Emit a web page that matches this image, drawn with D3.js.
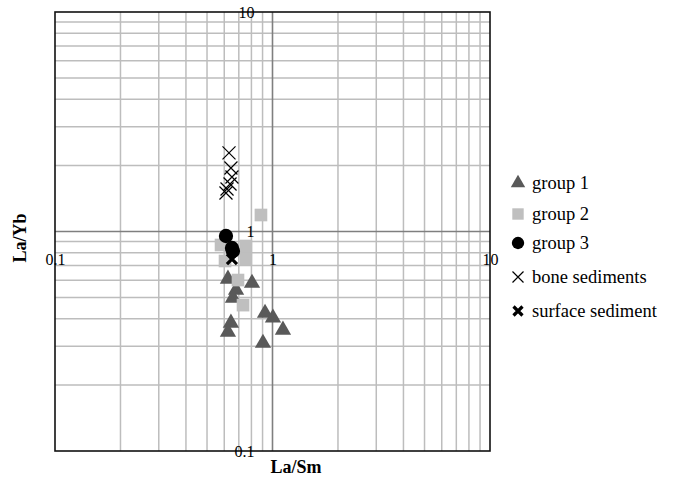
<!DOCTYPE html>
<html>
<head>
<meta charset="utf-8">
<script src="https://cdn.jsdelivr.net/npm/d3@7"></script>
<style>
  body { margin: 0; background: #fff; }
</style>
</head>
<body>
<div id="chart"></div>
<script>
// La/Sm (x) vs La/Yb (y)
const group1 = [
    [0.624, 0.608], [0.805, 0.582], [0.680, 0.541], [0.658, 0.498], [0.644, 0.383],
    [0.624, 0.348], [0.924, 0.425], [1.005, 0.404], [1.117, 0.356], [0.904, 0.310]
];
const group2 = [
    [0.885, 1.189], [0.580, 0.868], [0.755, 0.859], [0.755, 0.749], [0.605, 0.734],
    [0.651, 0.823], [0.694, 0.601], [0.732, 0.462]
];
const group3 = [
    [0.611, 0.954], [0.651, 0.841], [0.658, 0.815]
];
const boneSediments = [
    [0.631, 2.28], [0.644, 1.947], [0.651, 1.771], [0.638, 1.646], [0.618, 1.562], [0.611, 1.497]
];
const surfaceSediment = [
    [0.651, 0.749]
];
const tickValues = [0.1, 1, 10];
const legendLabels = ["group 1", "group 2", "group 3", "bone sediments", "surface sediment"];

const W = 677, H = 477;
const FONT = "'Liberation Serif', 'Times New Roman', serif";
const plot = {left: 55, right: 490, top: 12, bottom: 451};

const svg = d3.select("#chart").append("svg")
    .attr("width", W)
    .attr("height", H)
    .attr("font-family", FONT);

const x = d3.scaleLog().domain([0.1, 10]).range([plot.left, plot.right]);
const y = d3.scaleLog().domain([0.1, 10]).range([plot.bottom, plot.top]);

// grid lines (minor light, decade lines darker)
const grid = svg.append("g");
grid.selectAll(".vgrid")
    .data(x.ticks().filter(d => d > 0.1 && d < 10 && d !== 1))
    .enter().append("line")
    .attr("x1", d => x(d)).attr("x2", d => x(d))
    .attr("y1", plot.top).attr("y2", plot.bottom)
    .attr("stroke", "#bdbdbd").attr("stroke-width", 1.5);
grid.selectAll(".hgrid")
    .data(y.ticks().filter(d => d > 0.1 && d < 10 && d !== 1))
    .enter().append("line")
    .attr("x1", plot.left).attr("x2", plot.right)
    .attr("y1", d => y(d)).attr("y2", d => y(d))
    .attr("stroke", "#bdbdbd").attr("stroke-width", 1.5);

// axes cross at 1
svg.append("line")
    .attr("x1", x(1)).attr("x2", x(1))
    .attr("y1", plot.top).attr("y2", plot.bottom)
    .attr("stroke", "#7f7f7f").attr("stroke-width", 1.6);
svg.append("line")
    .attr("x1", plot.left).attr("x2", plot.right)
    .attr("y1", y(1)).attr("y2", y(1))
    .attr("stroke", "#7f7f7f").attr("stroke-width", 1.6);

svg.append("rect")
    .attr("x", plot.left).attr("y", plot.top)
    .attr("width", plot.right - plot.left).attr("height", plot.bottom - plot.top)
    .attr("fill", "none").attr("stroke", "#111").attr("stroke-width", 1.6);

// tick labels
const fmt = d3.format("~g");
const xAxis = svg.append("g")
    .attr("transform", `translate(0, ${y(1) + 22})`)
    .call(d3.axisBottom(x).tickValues(tickValues).tickFormat(fmt).tickSize(0).tickPadding(0));
const yAxis = svg.append("g")
    .attr("transform", `translate(${x(1) - 18}, 0)`)
    .call(d3.axisLeft(y).tickValues(tickValues).tickFormat(fmt).tickSize(0).tickPadding(0));
[xAxis, yAxis].forEach(a => {
    a.attr("font-family", FONT).attr("font-size", 16);
    a.select(".domain").remove();
    a.selectAll("text").attr("fill", "#000");
});

// axis titles
svg.append("text")
    .attr("x", 296).attr("y", 473)
    .attr("text-anchor", "middle")
    .attr("font-size", 18).attr("font-weight", "bold")
    .text("La/Sm");
svg.append("text")
    .attr("transform", "translate(26, 238) rotate(-90)")
    .attr("text-anchor", "middle")
    .attr("font-size", 18).attr("font-weight", "bold")
    .text("La/Yb");

// marker helpers
const xPath = (s) => `M${-s},${-s}L${s},${s}M${-s},${s}L${s},${-s}`;
const styles = [
    {sym: d3.symbol(d3.symbolTriangle, 115)(), fill: "#595959", stroke: "none", sw: 0},
    {sym: d3.symbol(d3.symbolSquare, 160)(), fill: "#bfbfbf", stroke: "none", sw: 0},
    {sym: d3.symbol(d3.symbolCircle, 160)(), fill: "#000", stroke: "none", sw: 0},
    {sym: xPath(6.5), fill: "none", stroke: "#000", sw: 1.2},
    {sym: xPath(5), fill: "none", stroke: "#000", sw: 3.2}
];
const legendStyles = [
    {sym: d3.symbol(d3.symbolTriangle, 90)()},
    {sym: d3.symbol(d3.symbolSquare, 130)()},
    {sym: d3.symbol(d3.symbolCircle, 120)()},
    {sym: xPath(5.5)},
    {sym: xPath(4.5)}
];

const series = [group1, group2, group3, boneSediments, surfaceSediment];
series.forEach((data, i) => {
    svg.append("g").selectAll("path")
        .data(data)
        .enter().append("path")
        .attr("d", styles[i].sym)
        .attr("transform", d => `translate(${x(d[0])}, ${y(d[1])})`)
        .attr("fill", styles[i].fill)
        .attr("stroke", styles[i].stroke)
        .attr("stroke-width", styles[i].sw);
});

// legend
const legendY = [183, 214, 243, 277, 311];
const legend = svg.append("g");
legendLabels.forEach((label, i) => {
    legend.append("path")
        .attr("d", legendStyles[i].sym)
        .attr("transform", `translate(518, ${legendY[i]})`)
        .attr("fill", styles[i].fill)
        .attr("stroke", styles[i].stroke)
        .attr("stroke-width", styles[i].sw);
    legend.append("text")
        .attr("x", 532).attr("y", legendY[i])
        .attr("dy", "0.35em")
        .attr("font-family", FONT)
        .attr("font-size", 18.5)
        .text(label);
});
</script>
</body>
</html>
